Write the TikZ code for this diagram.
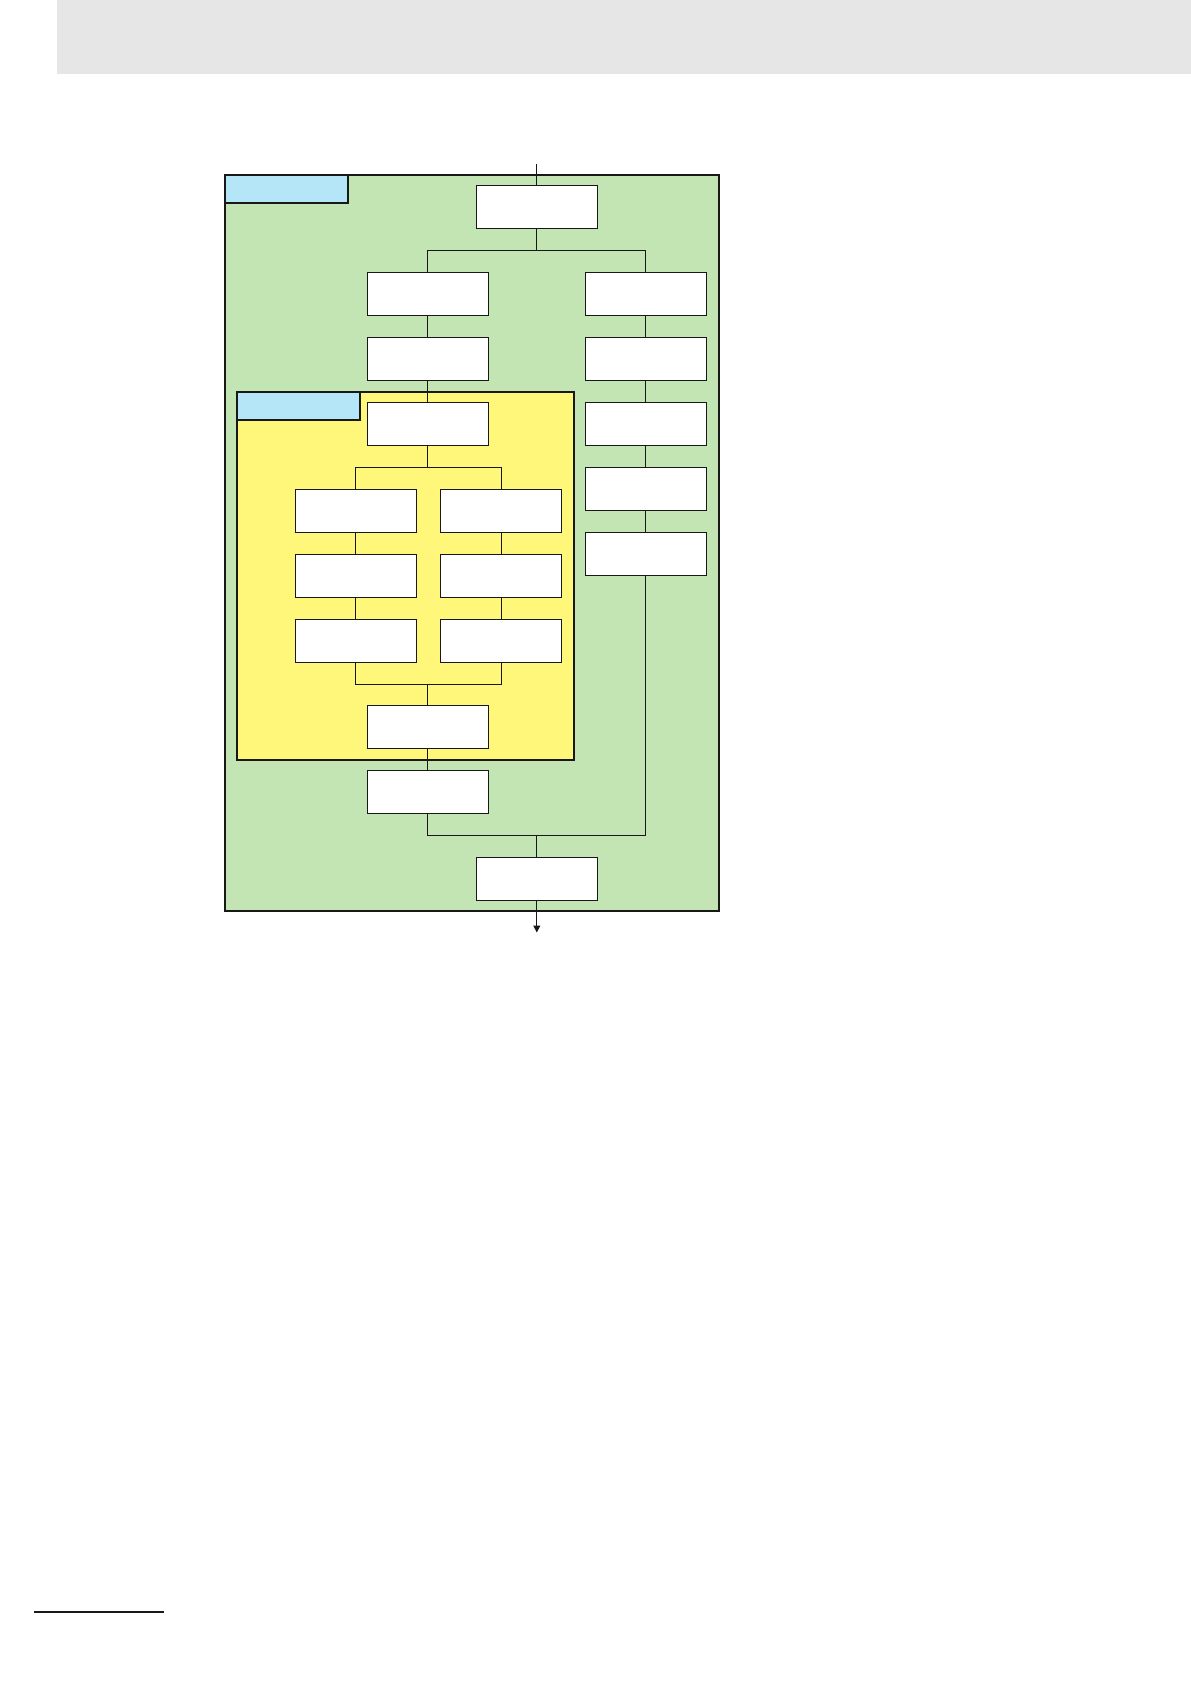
\documentclass[tikz,border=0pt]{standalone}
\usetikzlibrary{arrows.meta}
\definecolor{bandgray}{RGB}{230,230,230}
\definecolor{outergreen}{RGB}{194,229,179}
\definecolor{inneryellow}{RGB}{255,247,122}
\definecolor{labelblue}{RGB}{180,230,248}
\definecolor{ink}{RGB}{24,24,24}
\tikzset{
  stepbox/.style={draw=ink, fill=white, line width=1pt, minimum width=121pt, minimum height=43pt, inner sep=0pt, outer sep=0pt},
  conn/.style={draw=ink, line width=1pt},
  frame/.style={draw=ink, line width=2pt, inner sep=0pt, outer sep=0pt, anchor=north west},
}
\begin{document}
\begin{tikzpicture}[x=1pt,y=-1pt]
\useasboundingbox (0,0) rectangle (1191,1684);
% header band and footer rule
\fill[bandgray] (57,0) rectangle (1191,73.5);
\draw[ink, line width=1.7pt] (34,1611.7) -- (164,1611.7);
% outer green area
\node[frame, fill=outergreen, minimum width=494.3pt, minimum height=736.6pt] (outer) at (224.5,174.7) {};
\node[frame, fill=labelblue, minimum width=123.5pt, minimum height=28.6pt] (outerlabel) at (224.5,174.7) {};
% inner yellow area
\node[frame, fill=inneryellow, minimum width=337.5pt, minimum height=368pt] (inner) at (236.5,392) {};
\node[frame, fill=labelblue, minimum width=123.5pt, minimum height=28pt] (innerlabel) at (236.5,392) {};
% boxes
\node[stepbox] (top) at (536.8,207.3) {};
\node[stepbox] (l1) at (427.8,293.8) {};
\node[stepbox] (l2) at (427.8,358.7) {};
\node[stepbox] (y1) at (427.8,423.8) {};
\node[stepbox] (r1) at (645.8,293.8) {};
\node[stepbox] (r2) at (645.8,358.7) {};
\node[stepbox] (r3) at (645.8,423.8) {};
\node[stepbox] (r4) at (645.8,488.8) {};
\node[stepbox] (r5) at (645.8,553.8) {};
\node[stepbox] (a1) at (355.6,510.8) {};
\node[stepbox] (a2) at (355.6,575.8) {};
\node[stepbox] (a3) at (355.6,640.8) {};
\node[stepbox] (b1) at (501.4,510.8) {};
\node[stepbox] (b2) at (501.4,575.8) {};
\node[stepbox] (b3) at (501.4,640.8) {};
\node[stepbox] (yb) at (427.8,727.3) {};
\node[stepbox] (after) at (427.8,792.3) {};
\node[stepbox] (final) at (536.8,878.7) {};
% free ends and junctions
\coordinate (tin) at (536.8,164);
\coordinate (tb) at (536.8,250.3);
\coordinate (ib) at (427.8,467.3);
\coordinate (im) at (427.8,684);
\coordinate (mj) at (536.8,835.3);
\coordinate (tout) at (536.8,932.5);
% connectors
\draw[conn] (tin) -- (top.north);
\draw[conn] (top.south) -- (tb);
\draw[conn] (tb) -| (l1.north);
\draw[conn] (tb) -| (r1.north);
\draw[conn] (l1.south) -- (l2.north);
\draw[conn] (l2.south) -- (y1.north);
\draw[conn] (r1.south) -- (r2.north);
\draw[conn] (r2.south) -- (r3.north);
\draw[conn] (r3.south) -- (r4.north);
\draw[conn] (r4.south) -- (r5.north);
\draw[conn] (y1.south) -- (ib);
\draw[conn] (ib) -| (a1.north);
\draw[conn] (ib) -| (b1.north);
\draw[conn] (a1.south) -- (a2.north);
\draw[conn] (a2.south) -- (a3.north);
\draw[conn] (b1.south) -- (b2.north);
\draw[conn] (b2.south) -- (b3.north);
\draw[conn] (a3.south) |- (im);
\draw[conn] (b3.south) |- (im);
\draw[conn] (im) -- (yb.north);
\draw[conn] (yb.south) -- (after.north);
\draw[conn] (after.south) |- (mj);
\draw[conn] (r5.south) |- (mj);
\draw[conn] (mj) -- (final.north);
\draw[conn, -{Triangle[length=7pt,width=7pt]}] (final.south) -- (tout);
\end{tikzpicture}
\end{document}
